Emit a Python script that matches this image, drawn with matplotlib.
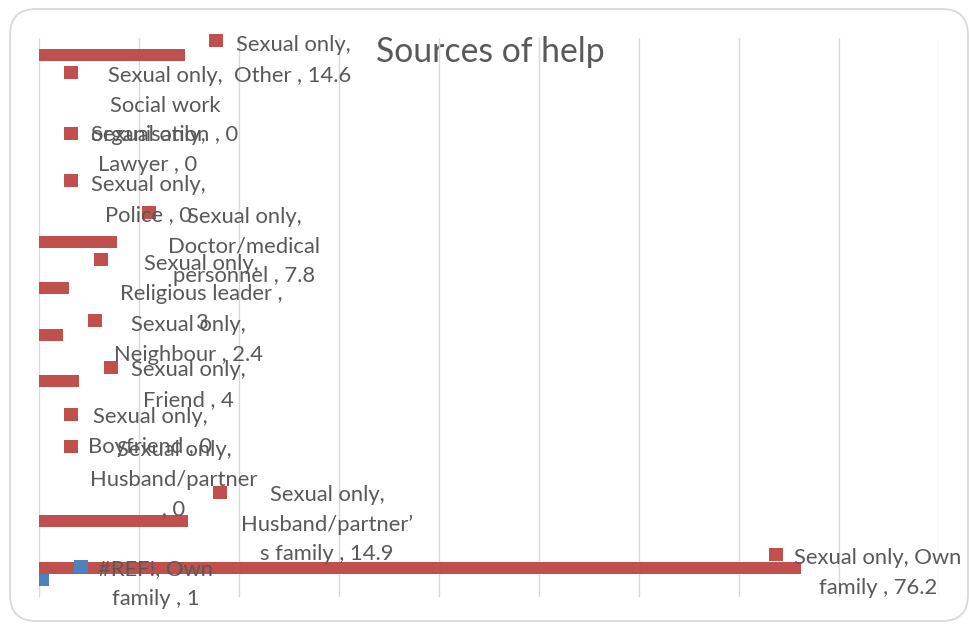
import matplotlib
matplotlib.use("Agg")
import matplotlib.pyplot as plt
import matplotlib.transforms as mtransforms
from matplotlib.patches import Rectangle, FancyBboxPatch

# ---------------- data ----------------
title = "Sources of help"
categories = ["Own family", "Husband/partner\u2019s family", "Husband/partner", "Boyfriend",
              "Friend", "Neighbour", "Religious leader", "Doctor/medical personnel",
              "Police", "Lawyer", "Social work organisation", "Other"]
series_names = ["Sexual only", "#REF!"]
sexual_only = [76.2, 14.9, 0, 0, 4, 2.4, 3, 7.8, 0, 0, 0, 14.6]
ref_series = [1, None, None, None, None, None, None, None, None, None, None, None]
x_max = 90
x_step = 10

# ---------------- style / layout ----------------
W, H = 970, 626
RED = "#C0504D"
BLUE = "#4F81BD"
TXT = "#595959"
GRID = "#D9D9D9"
FONT = "Lato"

fig = plt.figure(figsize=(W / 100, H / 100), dpi=100)
fig.patch.set_facecolor("white")
renderer = fig.canvas.get_renderer()

# pixel transform (origin top-left)
pix = mtransforms.Affine2D().scale(1, -1).translate(0, H)


def fit_size(text, target_px):
    t = fig.text(0, 0, text, fontsize=10, family=FONT)
    w = t.get_window_extent(renderer).width
    t.remove()
    return 10 * target_px / w


lab_fs = fit_size("Sexual only,", 115)
title_fs = fit_size(title, 230)

# chart border
fig.patches.append(FancyBboxPatch((10, 9), 958, 612, boxstyle="round,pad=0,rounding_size=26",
                                  transform=pix, fill=False, edgecolor=GRID, linewidth=1.3,
                                  zorder=-2))

fig.text(490, H - 62, title, transform=mtransforms.IdentityTransform(), fontsize=title_fs,
         family=FONT, color=TXT, ha="center", va="baseline", zorder=-1)

ax = fig.add_axes([39 / W, 1 - 597 / H, 900 / W, 559 / H])
ax.set_facecolor("none")
n = len(categories)
ypos = list(range(n))
bh = 0.26
ax.barh([y + bh / 2 for y in ypos], sexual_only, height=bh, color=RED, zorder=2)
ref_vals = [v if v is not None else 0 for v in ref_series]
ax.barh([y - bh / 2 for y in ypos], ref_vals, height=bh, color=BLUE, zorder=2)
ax.set_xlim(0, x_max)
ax.set_ylim(-0.5, n - 0.5)
ax.set_xticks(range(0, x_max + 1, x_step))
ax.set_yticks([])
ax.tick_params(axis="x", length=0, labelbottom=False)
ax.grid(axis="x", color=GRID, linewidth=1.0, zorder=0)
for s in ax.spines.values():
    s.set_visible(False)

# ---------------- data labels (positions copied from the chart layout) ----------------
# (category index, series index, key centre px, text centre x px, first line y px, line lengths)
label_layout = [
    (11, 0, (216, 41), 293, 43, [12]),
    (10, 0, (71, 73), 165, 74, [12, 12]),
    (9, 0, (71, 134), 148, 133, [12]),
    (8, 0, (71, 181), 148, 183, [12]),
    (7, 0, (149, 213), 244, 215, [12, 14]),
    (6, 0, (101, 260), 201, 262, [12, 18]),
    (5, 0, (95, 321), 188, 323, [12]),
    (4, 0, (111, 368), 188, 368, [12]),
    (3, 0, (71, 415), 150, 415, [12]),
    (2, 0, (71, 447), 174, 448, [12, 15]),
    (1, 0, (220, 493), 327, 493, [12, 16]),
    (0, 0, (776, 555), 878, 556, [16]),
    (0, 1, (81, 567), 156, 567, [10]),
]
LINE = 29.7


def split_lines(s, lens):
    out = []
    for k in lens:
        out.append(s[:k].strip())
        s = s[k:].lstrip()
    out.append(s.strip())
    return out


all_series = [sexual_only, ref_series]
for ci, si, (kx, ky), cx, y0, lens in label_layout:
    val = all_series[si][ci]
    full = f"{series_names[si]}, {categories[ci]} , {val:g}"
    lines = split_lines(full, lens)
    color = RED if si == 0 else BLUE
    fig.patches.append(Rectangle((kx - 7, ky - 7), 14, 13, transform=pix, facecolor=color,
                                 edgecolor="none", zorder=4))
    for i, line in enumerate(lines):
        yb = y0 + i * LINE + 8
        fig.text(cx, H - yb, line, transform=mtransforms.IdentityTransform(), fontsize=lab_fs,
                 family=FONT, color=TXT, ha="center", va="baseline", zorder=5)

fig.savefig("out.png", dpi=100, facecolor="white")
